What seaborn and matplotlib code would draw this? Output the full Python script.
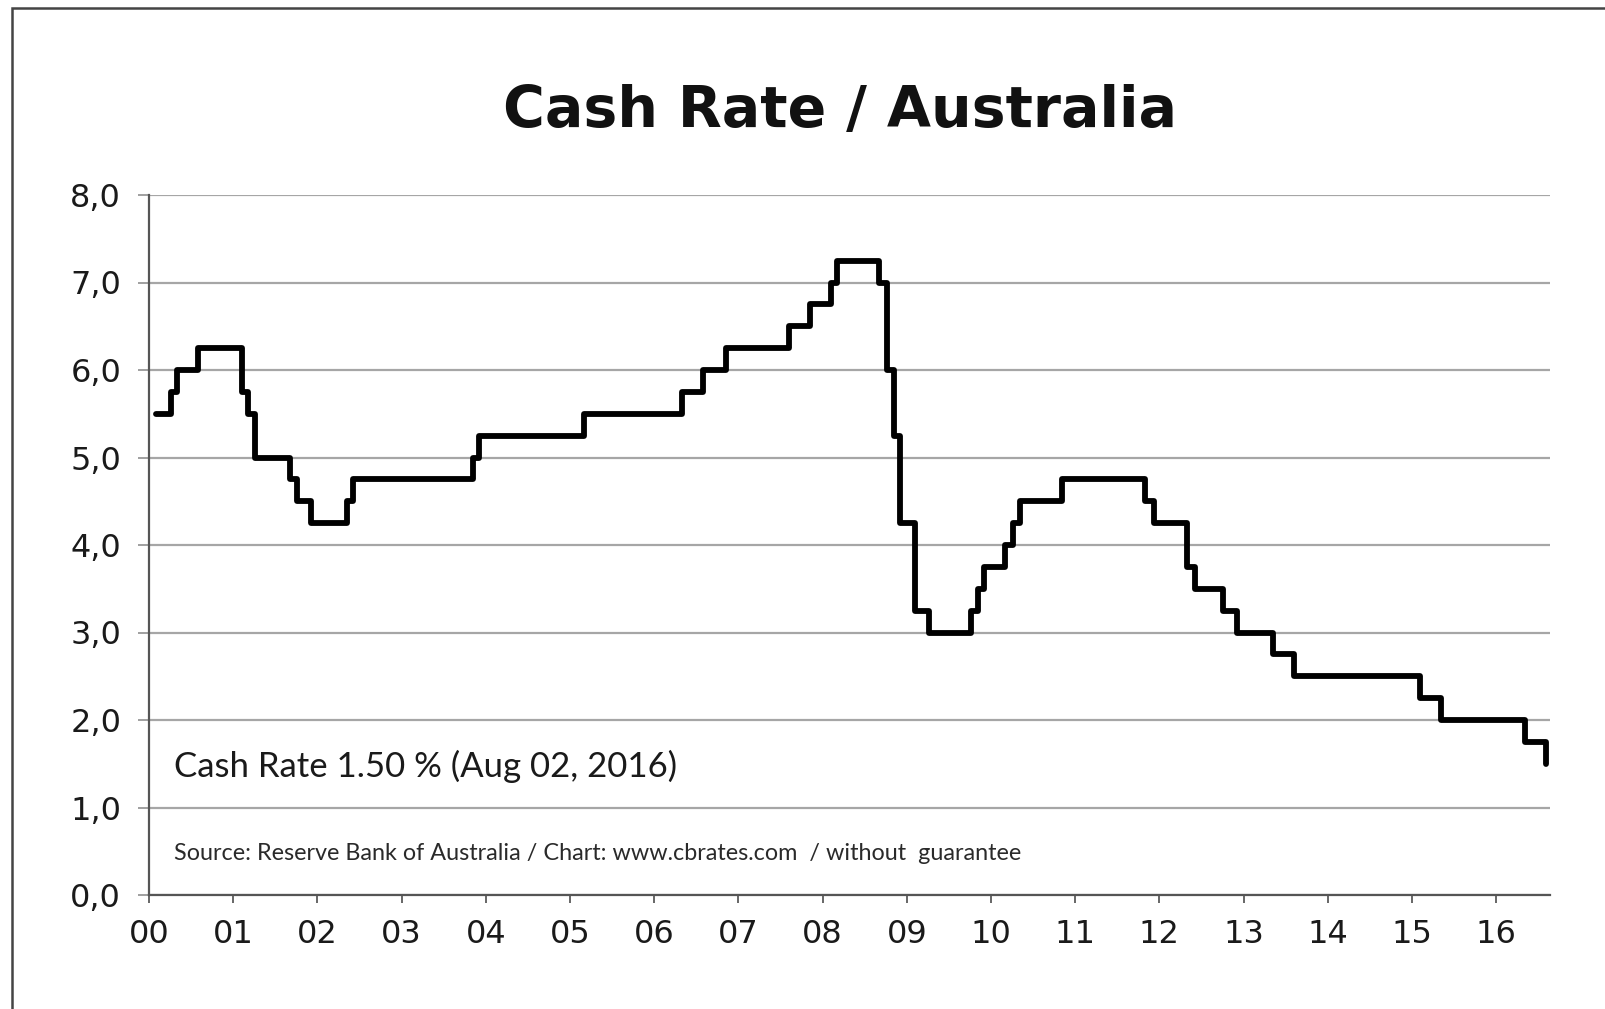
import matplotlib
matplotlib.use("Agg")
import matplotlib.pyplot as plt
import matplotlib.dates as mdates
from matplotlib.ticker import FuncFormatter, FixedLocator
from matplotlib.patches import Rectangle
import seaborn as sns
import pandas as pd

# ---- data: RBA cash rate target changes ----
change_dates = ["2000-02-02", "2000-04-05", "2000-05-03", "2000-08-02",
                "2001-02-07", "2001-03-07", "2001-04-04", "2001-09-05",
                "2001-10-03", "2001-12-05", "2002-05-08", "2002-06-05",
                "2003-11-05", "2003-12-03", "2005-03-02", "2006-05-03",
                "2006-08-02", "2006-11-08", "2007-08-08", "2007-11-07",
                "2008-02-06", "2008-03-05", "2008-09-03", "2008-10-08",
                "2008-11-05", "2008-12-03", "2009-02-04", "2009-04-08",
                "2009-10-07", "2009-11-04", "2009-12-02", "2010-03-03",
                "2010-04-07", "2010-05-05", "2010-11-03", "2011-11-02",
                "2011-12-07", "2012-05-02", "2012-06-06", "2012-10-03",
                "2012-12-05", "2013-05-08", "2013-08-07", "2015-02-04",
                "2015-05-06", "2016-05-04", "2016-08-03"]
cash_rates = [5.50, 5.75, 6.00, 6.25,
              5.75, 5.50, 5.00, 4.75,
              4.50, 4.25, 4.50, 4.75,
              5.00, 5.25, 5.50, 5.75,
              6.00, 6.25, 6.50, 6.75,
              7.00, 7.25, 7.00, 6.00,
              5.25, 4.25, 3.25, 3.00,
              3.25, 3.50, 3.75, 4.00,
              4.25, 4.50, 4.75, 4.50,
              4.25, 3.75, 3.50, 3.25,
              3.00, 2.75, 2.50, 2.25,
              2.00, 1.75, 1.50]
tick_years = list(range(2000, 2017))
y_ticks = [0, 1, 2, 3, 4, 5, 6, 7, 8]

title_text = "Cash Rate / Australia"
note_text = "Cash Rate 1.50 % (Aug 02, 2016)"
source_text = "Source: Reserve Bank of Australia / Chart: www.cbrates.com  / without  guarantee"

df = pd.DataFrame({"date": pd.to_datetime(change_dates), "rate": cash_rates})

sns.set_theme(style="white")
plt.rcParams["font.family"] = ["DejaVu Sans"]

W, H = 1606, 1009
fig = plt.figure(figsize=(W / 100, H / 100), dpi=100)
fig.patch.set_facecolor("white")

ax = fig.add_axes([149 / W, 1 - 895 / H, (1550 - 149) / W, (895 - 195) / H])
ax.set_facecolor("white")

sns.lineplot(data=df, x="date", y="rate", drawstyle="steps-post",
             color="black", linewidth=4.2, ax=ax, estimator=None, sort=False)

ax.set_xlim(pd.Timestamp("2000-01-01"), pd.Timestamp("2016-08-22"))
ax.set_ylim(0, 8)

ax.xaxis.set_major_locator(FixedLocator([mdates.date2num(pd.Timestamp(f"{y}-01-01")) for y in tick_years]))
ax.xaxis.set_major_formatter(FuncFormatter(lambda v, p: mdates.num2date(v).strftime("%y")))
ax.set_yticks(y_ticks)
ax.yaxis.set_major_formatter(FuncFormatter(lambda v, p: f"{v:.1f}".replace(".", ",")))

ax.yaxis.grid(True, color="#a6a6a6", linewidth=1.6)
ax.xaxis.grid(False)
ax.set_axisbelow(True)

for s in ["top", "right"]:
    ax.spines[s].set_visible(False)
for s in ["left", "bottom"]:
    ax.spines[s].set_color("#555555")
    ax.spines[s].set_linewidth(1.6)

ax.tick_params(axis="x", direction="out", length=6, width=1.4, color="#666666",
               labelsize=23, labelcolor="#1a1a1a", pad=11, bottom=True)
ax.tick_params(axis="y", direction="out", length=8, width=1.4, color="#a0a0a0",
               labelsize=23, labelcolor="#1a1a1a", pad=12, left=True)
ax.set_xlabel("")
ax.set_ylabel("")

fig.text(840 / W, 1 - 111 / H, title_text, ha="center", va="center",
         fontsize=41, fontweight="bold", color="#111111")
fig.text(174 / W, 1 - 766 / H, note_text, ha="left", va="center",
         fontsize=25, family=["Lato", "DejaVu Sans"], color="#1a1a1a")
fig.text(174 / W, 1 - 853 / H, source_text, ha="left", va="center",
         fontsize=16.8, family=["Lato", "DejaVu Sans"], color="#2a2a2a")

# outer frame (left and top edges visible)
fig.patches.append(Rectangle((12 / W, -0.1), 1.2, 1.1 - 8 / H, transform=fig.transFigure,
                             fill=False, edgecolor="#444444", linewidth=1.8, clip_on=False))

fig.savefig("out.png", dpi=100, facecolor="white")
